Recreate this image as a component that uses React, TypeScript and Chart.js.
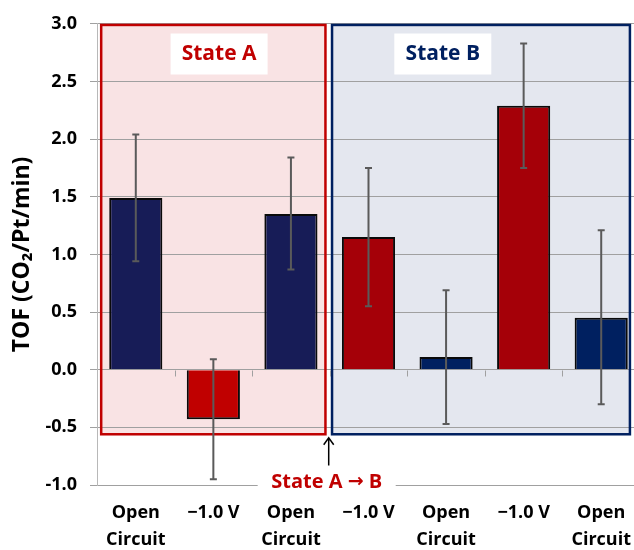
import { useEffect, useRef } from 'react';
import { Chart, registerables } from 'chart.js';

Chart.register(...registerables);

// Conditions along the x axis (multi-line labels for open circuit)
const categories: (string | string[])[] = [
  ['Open', 'Circuit'],
  '\u22121.0 V',
  ['Open', 'Circuit'],
  '\u22121.0 V',
  ['Open', 'Circuit'],
  '\u22121.0 V',
  ['Open', 'Circuit'],
];

// Turnover frequency, CO2 per Pt site per minute
const tof = [1.49, -0.43, 1.35, 1.15, 0.11, 2.29, 0.45];

// Error bar bounds
const errLow = [0.94, -0.95, 0.87, 0.55, -0.47, 1.75, -0.3];
const errHigh = [2.04, 0.09, 1.84, 1.75, 0.69, 2.83, 1.21];

const barColors = ['#171C57', '#C00000', '#171C57', '#A50008', '#002060', '#A50008', '#002060'];

const FONT = "'Open Sans', 'Noto Sans', sans-serif";
const ARROW_FONT = "'DejaVu Sans', sans-serif";
const RED = '#C00000';
const NAVY = '#002060';
const GRID = '#A0A0A0';

type Region = { x0: number; x1: number; y0: number; y1: number; fill: string; stroke: string; label: string; lx: number; ly: number };

const regions: Region[] = [
  { x0: -0.446, x1: 2.445, y0: -0.56, y1: 2.99, fill: '#F9E3E4', stroke: RED, label: 'State A', lx: 1.074, ly: 2.738 },
  { x0: 2.53, x1: 6.37, y0: -0.56, y1: 2.99, fill: '#E4E7EF', stroke: NAVY, label: 'State B', lx: 3.958, ly: 2.738 },
];

const statePlugin = {
  id: 'statePanels',
  beforeDraw(chart: any) {
    const { ctx, scales } = chart;
    const x = scales.x;
    const y = scales.y;
    ctx.save();
    regions.forEach((r) => {
      const l = x.getPixelForValue(r.x0);
      const rr = x.getPixelForValue(r.x1);
      const t = y.getPixelForValue(r.y1);
      const b = y.getPixelForValue(r.y0);
      ctx.fillStyle = r.fill;
      ctx.fillRect(l, t, rr - l, b - t);
    });
    ctx.restore();
  },
  beforeDatasetsDraw(chart: any) {
    const { ctx, scales } = chart;
    const x = scales.x;
    const y = scales.y;
    ctx.save();
    // panel outlines
    regions.forEach((r) => {
      const l = x.getPixelForValue(r.x0);
      const rr = x.getPixelForValue(r.x1);
      const t = y.getPixelForValue(r.y1);
      const b = y.getPixelForValue(r.y0);
      ctx.strokeStyle = r.stroke;
      ctx.lineWidth = 2.5;
      ctx.strokeRect(l, t, rr - l, b - t);
    });
    // tick marks along the zero line between categories
    const y0 = Math.round(y.getPixelForValue(0)) + 0.5;
    ctx.strokeStyle = GRID;
    ctx.lineWidth = 1;
    for (let i = 0; i < categories.length - 1; i++) {
      const px = Math.round(x.getPixelForValue(i + 0.5)) + 0.5;
      ctx.beginPath();
      ctx.moveTo(px, y0);
      ctx.lineTo(px, y0 + 6);
      ctx.stroke();
    }
    ctx.restore();
  },
  afterDatasetsDraw(chart: any) {
    const { ctx, scales } = chart;
    const x = scales.x;
    const y = scales.y;
    ctx.save();
    ctx.strokeStyle = '#5A5A5A';
    ctx.lineWidth = 2;
    const cap = 3.5;
    tof.forEach((_, i) => {
      const px = x.getPixelForValue(i);
      const top = y.getPixelForValue(errHigh[i]);
      const bot = y.getPixelForValue(errLow[i]);
      ctx.beginPath();
      ctx.moveTo(px, top);
      ctx.lineTo(px, bot);
      ctx.moveTo(px - cap, top);
      ctx.lineTo(px + cap, top);
      ctx.moveTo(px - cap, bot);
      ctx.lineTo(px + cap, bot);
      ctx.stroke();
    });
    ctx.restore();
  },
  afterDraw(chart: any) {
    const { ctx, scales } = chart;
    const x = scales.x;
    const y = scales.y;
    ctx.save();
    ctx.textBaseline = 'middle';
    // panel titles on white boxes
    ctx.textAlign = 'center';
    regions.forEach((r) => {
      const cx = x.getPixelForValue(r.lx);
      const cy = y.getPixelForValue(r.ly);
      ctx.fillStyle = '#FFFFFF';
      ctx.fillRect(cx - 48.5, cy - 20.5, 97, 41);
      ctx.fillStyle = r.stroke;
      ctx.font = `bold 21px ${FONT}`;
      ctx.fillText(r.label, cx, cy);
    });
    // transition label under the panels, arrow glyph set in a font that has it
    const tx = x.getPixelForValue(2.461);
    const ty = y.getPixelForValue(-0.975);
    ctx.fillStyle = '#FFFFFF';
    ctx.fillRect(tx - 69, ty - 12, 138, 24);
    const parts: [string, string][] = [
      ['State A ', `bold 20px ${FONT}`],
      ['\u2192', `bold 19px ${ARROW_FONT}`],
      [' B', `bold 20px ${FONT}`],
    ];
    const widths = parts.map(([s, f]) => {
      ctx.font = f;
      return ctx.measureText(s).width;
    });
    const total = widths.reduce((a, b) => a + b, 0);
    let cursor = tx - total / 2;
    ctx.textAlign = 'left';
    ctx.fillStyle = RED;
    parts.forEach(([s, f], i) => {
      ctx.font = f;
      ctx.fillText(s, cursor, ty);
      cursor += widths[i];
    });
    // arrow pointing up between the panels
    const ax = x.getPixelForValue(2.487);
    const aTop = y.getPixelForValue(-0.59);
    const aBot = y.getPixelForValue(-0.83);
    ctx.strokeStyle = '#000000';
    ctx.lineWidth = 1.5;
    ctx.beginPath();
    ctx.moveTo(ax, aBot);
    ctx.lineTo(ax, aTop);
    ctx.moveTo(ax - 5, aTop + 7);
    ctx.lineTo(ax, aTop);
    ctx.lineTo(ax + 5, aTop + 7);
    ctx.stroke();
    ctx.restore();
  },
};

export default function App() {
  const canvasRef = useRef<HTMLCanvasElement | null>(null);

  useEffect(() => {
    document.body.style.margin = '0';
    const canvas = canvasRef.current;
    if (!canvas) return;
    const chart = new Chart(canvas, {
      type: 'bar',
      data: {
        labels: categories,
        datasets: [
          {
            data: tof,
            backgroundColor: barColors,
            borderColor: '#0A0A0A',
            borderWidth: 2,
            barPercentage: 0.685,
            categoryPercentage: 1,
          },
        ],
      },
      options: {
        responsive: false,
        animation: false,
        devicePixelRatio: 1,
        layout: { padding: { top: 23, right: 8, left: 0, bottom: 0 } },
        plugins: {
          legend: { display: false },
          tooltip: { enabled: false },
        },
        scales: {
          x: {
            grid: { display: false, drawTicks: false },
            border: { display: true, color: GRID },
            ticks: {
              color: '#000000',
              font: { family: FONT, size: 18, weight: 'bold', lineHeight: 1.5 },
              padding: 14,
              maxRotation: 0,
              autoSkip: false,
            },
            afterFit: (s: any) => {
              s.height = 65;
            },
          },
          y: {
            min: -1,
            max: 3,
            grid: { color: GRID, tickLength: 7, drawTicks: true },
            border: { color: '#B8B8B8' },
            ticks: {
              stepSize: 0.5,
              color: '#000000',
              font: { family: FONT, size: 18, weight: 'bold' },
              padding: 13,
              callback: (v: any) => Number(v).toFixed(1),
            },
            title: {
              display: true,
              text: 'TOF (CO\u2082/Pt/min)',
              color: '#000000',
              font: { family: FONT, size: 23, weight: 'bold' },
              padding: { top: 9, bottom: 0 },
            },
            afterFit: (s: any) => {
              s.width = 97;
            },
          },
        },
      },
      plugins: [statePlugin],
    });
    return () => chart.destroy();
  }, []);

  return (
    <div style={{ width: 634, height: 550, overflow: 'hidden', background: '#FFFFFF' }}>
      <canvas ref={canvasRef} width={648} height={550} style={{ display: 'block' }} />
    </div>
  );
}
